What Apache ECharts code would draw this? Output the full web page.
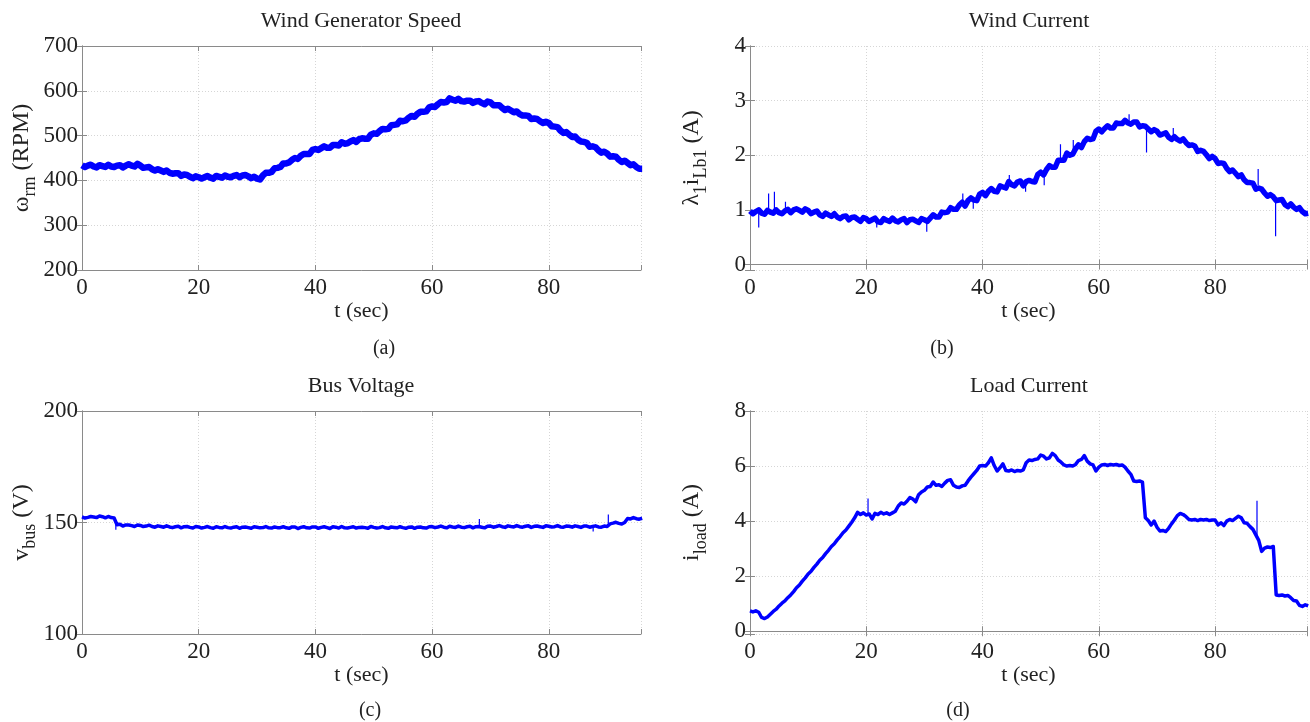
<!DOCTYPE html>
<html>
<head>
<meta charset="utf-8">
<script src="https://cdn.jsdelivr.net/npm/echarts@6/dist/echarts.min.js"></script>
<style>
html,body{margin:0;padding:0;background:#fff;}
#c{width:1310px;height:722px;}
</style>
</head>
<body>
<div id="c"></div>
<script>
// sample period of all recorded traces (s)
const DT = 0.5;
const xTicks = [0, 20, 40, 60, 80];
const tMax = 95.8;

// (a) Wind generator speed, RPM, t = 0, 0.5, ... 96
const speedRPM = [
434,430,433,435,431,429,434,432,430,435,431,430,433,434,429,433,436,433,431,437,
433,428,429,430,425,422,425,422,419,422,417,415,416,416,410,413,412,408,405,409,
407,404,407,410,406,404,410,408,406,411,408,407,410,412,407,411,412,409,405,408,
404,402,411,417,417,419,427,428,430,438,438,440,446,450,448,455,459,459,459,468,
470,468,472,476,473,473,479,479,478,485,482,483,487,490,486,492,494,493,493,502,
505,504,510,515,514,515,523,524,525,533,532,534,540,544,542,549,553,553,554,563,
565,564,570,575,574,575,583,580,578,582,577,576,578,578,573,576,577,573,570,576,
574,568,568,568,562,557,560,556,552,554,548,545,545,544,537,538,537,532,528,531,
528,521,520,519,511,506,508,502,497,498,491,487,486,484,475,476,474,467,462,464,
460,453,454,453,446,441,444,439,434,436,430,426,426
];

// (b) Wind current lambda1*iLb1, A
const windCurrent = [
0.98,0.93,0.97,1.00,0.94,0.92,0.99,0.96,0.94,1.00,0.95,0.93,0.98,1.01,0.95,1.00,1.02,0.99,0.96,1.02,
0.99,0.93,0.96,0.98,0.91,0.88,0.94,0.91,0.88,0.93,0.87,0.84,0.88,0.89,0.82,0.86,0.87,0.83,0.79,0.86,
0.84,0.79,0.82,0.85,0.78,0.77,0.84,0.81,0.79,0.85,0.80,0.78,0.82,0.84,0.77,0.82,0.83,0.80,0.77,0.84,
0.82,0.79,0.85,0.91,0.87,0.87,0.96,0.95,0.96,1.04,1.01,1.01,1.09,1.14,1.07,1.17,1.22,1.18,1.17,1.29,
1.32,1.26,1.34,1.39,1.34,1.33,1.44,1.42,1.40,1.52,1.46,1.44,1.51,1.53,1.44,1.52,1.54,1.52,1.51,1.65,
1.69,1.64,1.74,1.81,1.78,1.78,1.91,1.91,1.91,2.04,2.00,2.02,2.12,2.19,2.14,2.25,2.31,2.29,2.30,2.44,
2.48,2.43,2.49,2.54,2.50,2.50,2.59,2.58,2.58,2.64,2.59,2.57,2.61,2.61,2.52,2.54,2.53,2.48,2.43,2.47,
2.44,2.37,2.39,2.41,2.33,2.29,2.34,2.29,2.26,2.30,2.23,2.18,2.19,2.17,2.07,2.09,2.07,2.01,1.94,1.98,
1.94,1.85,1.86,1.85,1.76,1.70,1.73,1.67,1.61,1.64,1.55,1.50,1.50,1.49,1.38,1.40,1.38,1.31,1.25,1.28,
1.24,1.17,1.18,1.19,1.10,1.06,1.11,1.05,1.01,1.04,0.97,0.93,0.94
];
// narrow spikes in (b): [t, from, to]
const windSpikes = [
[1.5, 0.95, 0.68], [3.2, 0.95, 1.30], [4.2, 0.98, 1.33], [6.1, 0.95, 1.15], [21.8, 0.82, 0.68],
[30.4, 0.82, 0.60], [36.6, 1.1, 1.3], [38.4, 1.2, 1.02], [44.6, 1.47, 1.64], [47.4, 1.5, 1.33],
[50.6, 1.68, 1.45], [53.4, 1.9, 2.2], [55.6, 2.05, 2.28], [65.2, 2.58, 2.75], [68.2, 2.5, 2.05],
[72.8, 2.3, 2.5], [87.4, 1.45, 1.75], [90.4, 1.22, 0.52]
];

// (c) Bus voltage, V
const busVoltage = [
152.5,152.0,152.3,152.7,152.5,152.2,152.9,152.6,152.1,152.7,152.2,152.0,149.0,149.2,148.4,148.9,148.9,148.6,148.2,148.9,
148.7,148.2,148.4,148.8,148.2,147.9,148.5,148.2,147.9,148.5,148.0,147.7,148.1,148.3,147.6,148.1,148.2,147.8,147.5,148.2,
148.0,147.5,147.8,148.2,147.7,147.4,148.1,147.8,147.6,148.2,147.7,147.5,147.9,148.1,147.4,147.9,148.0,147.7,147.4,148.1,
147.9,147.6,147.7,148.2,147.6,147.5,148.0,147.7,147.7,148.1,147.6,147.4,148.0,148.0,147.3,147.8,148.1,147.6,147.5,148.0,
148.0,147.4,147.8,148.1,147.7,147.3,148.1,147.9,147.5,148.2,147.6,147.5,147.8,148.1,147.5,147.8,147.9,147.7,147.4,148.2,
147.8,147.5,147.7,148.2,147.6,147.4,148.0,147.8,147.6,148.1,147.7,147.4,147.9,148.0,147.4,147.9,148.0,147.6,147.5,148.1,
148.2,147.7,148.0,148.4,147.9,147.6,148.3,148.0,147.8,148.4,147.9,147.7,148.1,148.3,147.6,148.1,148.2,147.9,147.6,148.3,
148.4,147.9,148.2,148.6,148.1,147.8,148.5,148.2,148.0,148.6,148.1,147.9,148.3,148.5,147.8,148.3,148.4,148.1,147.8,148.5,
148.3,148.0,148.1,148.6,148.0,147.9,148.4,148.3,147.9,148.5,148.2,147.8,148.4,148.4,147.9,148.2,148.5,148.0,147.9,148.4,
148.2,149.4,149.7,150.1,149.6,149.3,150.0,151.8,151.6,152.2,151.7,151.5,151.9
];
const busSpikes = [
[5.8, 150.0, 146.8], [68.1, 148.2, 151.6], [87.6, 148.2, 146.0], [90.2, 149.0, 153.6]
];

// (d) Load current, A
const loadCurrent = [
0.74,0.70,0.74,0.69,0.50,0.46,0.52,0.62,0.72,0.80,0.92,1.02,1.10,1.22,1.32,1.44,1.58,1.68,1.82,1.94,
2.08,2.18,2.32,2.44,2.58,2.68,2.82,2.94,3.08,3.18,3.32,3.44,3.58,3.68,3.82,3.96,4.12,4.32,4.24,4.30,
4.22,4.26,4.08,4.28,4.24,4.32,4.26,4.30,4.24,4.30,4.36,4.55,4.66,4.62,4.72,4.86,4.80,4.70,4.96,5.06,
5.12,5.24,5.26,5.42,5.30,5.32,5.26,5.38,5.48,5.50,5.30,5.24,5.22,5.28,5.30,5.46,5.60,5.72,5.84,6.00,
6.02,6.00,6.12,6.30,6.02,5.82,5.94,6.08,5.84,5.82,5.86,5.80,5.84,5.82,5.86,6.12,6.22,6.20,6.24,6.26,
6.40,6.36,6.26,6.30,6.46,6.38,6.22,6.14,6.04,6.00,6.02,6.00,6.06,6.20,6.24,6.38,6.18,6.08,6.04,5.82,
5.96,6.04,6.06,6.02,6.06,6.04,6.06,6.02,6.04,5.96,5.82,5.70,5.46,5.44,5.46,5.42,4.12,4.02,3.86,4.00,
3.78,3.64,3.66,3.62,3.74,3.90,4.04,4.20,4.28,4.24,4.16,4.06,4.04,4.06,4.02,4.06,4.04,4.06,4.02,4.04,
4.04,3.86,3.94,3.84,4.00,4.06,4.02,4.10,4.18,4.12,3.94,3.92,3.80,3.70,3.50,3.30,2.90,3.02,3.06,3.04,
3.08,1.32,1.30,1.32,1.28,1.30,1.22,1.12,1.10,0.94,0.90,0.96,0.92
];
const loadSpikes = [
[20.3, 4.25, 4.82], [87.2, 3.45, 4.74]
];

const titles = ['Wind Generator Speed', 'Wind Current', 'Bus Voltage', 'Load Current'];
const captions = ['(a)', '(b)', '(c)', '(d)'];
const xName = 't (sec)';
const yRange = [[200, 700, 100], [-0.1, 4, 1], [100, 200, 50], [-0.1, 8, 2]];

const FONT = "'Liberation Serif', 'Times New Roman', serif";
const TXT = '#222';
const FRAME = '#8a8a8a';
const BLUE = '#0000ff';

const yNames = [
  '{m|ω}{s|rm}{m| (RPM)}',
  '{m|λ}{s|1}{m|i}{s|Lb1}{m| (A)}',
  '{m|v}{s|bus}{m| (V)}',
  '{m|i}{s|load}{m| (A)}'
];
const richName = {
  m: { fontFamily: FONT, fontSize: 24, color: TXT, lineHeight: 36 },
  s: { fontFamily: FONT, fontSize: 18, color: TXT, verticalAlign: 'bottom' }
};

const grids = [
  { left: 82, top: 46, width: 559, height: 224 },
  { left: 750, top: 46, width: 558, height: 224 },
  { left: 82, top: 411, width: 559, height: 223 },
  { left: 750, top: 411, width: 558, height: 223 }
];

function pairs(vals) {
  return vals.map((v, i) => [i * DT, v]);
}
function spikePairs(sp) {
  const out = [];
  sp.forEach(s => { out.push([s[0], s[1]], [s[0], s[2]], [s[0], '-']); });
  return out;
}

const xAxes = [], yAxes = [], series = [];
for (let i = 0; i < 4; i++) {
  const [ymin, ymax, yint] = yRange[i];
  const yAligned = ymin % yint === 0;
  xAxes.push({
    type: 'value', gridIndex: i, min: 0, max: tMax, interval: 20,
    name: xName, nameLocation: 'middle', nameGap: 29,
    nameTextStyle: { fontFamily: FONT, fontSize: 22, color: TXT },
    axisLine: { show: true, lineStyle: { color: FRAME, width: 1 } },
    axisTick: { show: true, inside: true, length: 5, lineStyle: { color: FRAME } },
    axisLabel: { fontFamily: FONT, fontSize: 23, color: TXT, margin: 6,
      formatter: v => (xTicks.indexOf(v) >= 0 ? String(v) : '') },
    splitLine: { show: true, lineStyle: { color: '#d6d6d6', type: [1, 2], width: 1 } }
  });
  xAxes.push({
    type: 'value', gridIndex: i, position: 'top', min: 0, max: tMax, interval: 20,
    axisLine: { show: true, lineStyle: { color: FRAME, width: 1 } },
    axisTick: { show: true, inside: true, length: 5, lineStyle: { color: FRAME } },
    axisLabel: { show: false }, splitLine: { show: false }
  });
  const yBase = {
    type: 'value', gridIndex: i, min: ymin, max: ymax
  };
  if (yAligned) yBase.interval = yint; else { yBase.minInterval = yint; yBase.maxInterval = yint; }
  yAxes.push(Object.assign({}, yBase, {
    name: yNames[i], nameLocation: 'middle', nameRotate: 90, nameGap: 40,
    nameTextStyle: { rich: richName },
    axisLine: { show: true, lineStyle: { color: FRAME, width: 1 } },
    axisTick: { show: true, inside: true, length: 5, lineStyle: { color: FRAME } },
    axisLabel: { fontFamily: FONT, fontSize: 23, color: TXT, margin: 4,
      formatter: v => (Math.abs(v / yint - Math.round(v / yint)) < 1e-9 ? String(v) : '') },
    splitLine: { show: true, lineStyle: { color: '#d6d6d6', type: [1, 2], width: 1 } }
  }));
  yAxes.push(Object.assign({}, yBase, {
    position: 'right',
    axisLine: { show: true, lineStyle: { color: FRAME, width: 1 } },
    axisTick: { show: true, inside: true, length: 5, lineStyle: { color: FRAME } },
    axisLabel: { show: false }, splitLine: { show: false }
  }));
}

const datasets = [speedRPM, windCurrent, busVoltage, loadCurrent];
const spikes = [null, windSpikes, busSpikes, loadSpikes];
const widths = [6.5, 5.5, 3.5, 3.5];
for (let i = 0; i < 4; i++) {
  series.push({
    type: 'line', xAxisIndex: i * 2, yAxisIndex: i * 2,
    data: pairs(datasets[i]), showSymbol: false, symbol: 'none',
    lineStyle: { color: BLUE, width: widths[i], join: 'round', cap: 'butt' }, silent: true, clip: true
  });
  if (spikes[i]) {
    series.push({
      type: 'line', xAxisIndex: i * 2, yAxisIndex: i * 2,
      data: spikePairs(spikes[i]), showSymbol: false, symbol: 'none', connectNulls: false,
      lineStyle: { color: BLUE, width: 1.2 }, silent: true, clip: true
    });
  }
}

const graphics = [];
const titlePos = [[361, 21], [1029, 21], [361, 386], [1029, 386]];
const capPos = [[384, 349], [942, 349], [370, 711], [958, 711]];
for (let i = 0; i < 4; i++) {
  graphics.push({ type: 'text', x: titlePos[i][0], y: titlePos[i][1],
    style: { text: titles[i], fill: TXT, font: "22px " + FONT, align: 'center', verticalAlign: 'middle' } });
  graphics.push({ type: 'text', x: capPos[i][0], y: capPos[i][1],
    style: { text: captions[i], fill: TXT, font: "20px " + FONT, align: 'center', verticalAlign: 'middle' } });
}

const chart = echarts.init(document.getElementById('c'), null, { renderer: 'canvas' });
chart.setOption({
  animation: false,
  backgroundColor: '#fff',
  grid: grids,
  xAxis: xAxes,
  yAxis: yAxes,
  series: series,
  graphic: graphics
});
</script>
</body>
</html>
